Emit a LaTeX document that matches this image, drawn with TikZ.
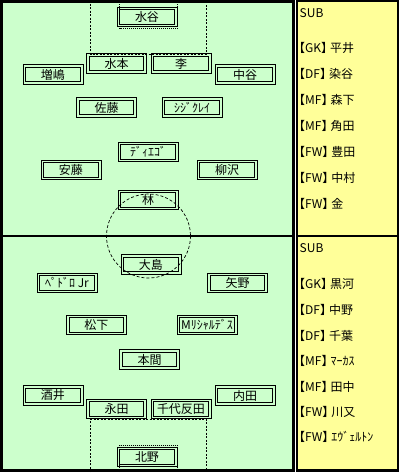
\documentclass[tikz,border=0pt]{standalone}
\usepackage{fontspec}
\setmainfont{Noto Sans CJK JP}
\definecolor{fieldgreen}{HTML}{CCFFCC}
\definecolor{subyellow}{HTML}{FFFF99}
\begin{document}
\begin{tikzpicture}[x=1pt,y=-1pt,
  player/.style={draw=black, line width=1pt, fill=fieldgreen,
    minimum width=60pt, minimum height=19.5pt, inner sep=0pt,
    font=\fontsize{12}{14}\selectfont,
    path picture={\draw[line width=1pt]
      ([xshift=2.6pt,yshift=-2.6pt]path picture bounding box.north west) rectangle
      ([xshift=-2.6pt,yshift=2.6pt]path picture bounding box.south east);}},
  subtxt/.style={anchor=west, inner sep=0pt, font=\fontsize{12}{14}\selectfont},
  arealine/.style={line width=0.7pt, dash pattern=on 2pt off 1.5pt},
  goalline/.style={line width=0.7pt, dash pattern=on 1pt off 1pt},
  circleline/.style={line width=0.7pt, dash pattern=on 3pt off 2pt}]
\useasboundingbox (0,0) rectangle (401,475);
\fill[white] (0,0) rectangle (401,475);
% field
\fill[fieldgreen] (1.5,1.5) rectangle (293.5,470.5);
% halfway line
\draw[line width=2pt] (1.5,236) -- (293.5,236);
% sub panel
\fill[subyellow] (297.2,1) rectangle (398,470.5);
\draw[line width=2.2pt] (297.2,1) rectangle (398,470.5);
\draw[line width=2pt] (297.2,236) -- (398,236);

% top team
\node[player] (p1) at (147,17) {水谷};
\node[player] (p2) at (116.5,63.5) {水本};
\node[player] (p3) at (181,63.5) {李};
\node[player] (p4) at (53,74.5) {増嶋};
\node[player] (p5) at (245,74.5) {中谷};
\node[player] (p6) at (106.5,107.5) {佐藤};
\node[player] (p7) at (192,107.5) {ｼｼﾞｸﾚｲ};
\node[player] (p8) at (148,152) {ﾃﾞｨｴｺﾞ};
\node[player] (p9) at (71,170) {安藤};
\node[player] (p10) at (227,170) {柳沢};
\node[player] (p11) at (148,200) {林};
% bottom team
\node[player] (q1) at (151,264.5) {大島};
\node[player] (q2) at (67,283) {ﾍﾟﾄﾞﾛ Jr};
\node[player] (q3) at (237.5,283) {矢野};
\node[player] (q4) at (96.5,325) {松下};
\node[player] (q5) at (207,325) {Mﾘｼｬﾙﾃﾞｽ};
\node[player] (q6) at (149.5,359.5) {本間};
\node[player] (q7) at (53,395.5) {酒井};
\node[player] (q8) at (245,395.5) {内田};
\node[player] (q9) at (116.5,409) {永田};
\node[player] (q10) at (181,409) {千代反田};
\node[player] (q11) at (147,457) {北野};

% penalty and goal areas (drawn over the boxes)
\draw[arealine] (90.5,0) -- (90.5,54) -- (206,54) -- (206,0);
\draw[goalline] (119.5,0) -- (119.5,28.5) -- (177,28.5) -- (177,0);
\draw[arealine] (90.5,472) -- (90.5,419) -- (206,419) -- (206,472);
\draw[goalline] (119.5,472) -- (119.5,445) -- (177,445) -- (177,472);
% centre circle
\coordinate (cc) at (148.5,236);
\draw[circleline] (cc) circle[radius=42];
% field border
\draw[line width=2.8pt] (1.5,1.5) rectangle (293.5,470.5);

% substitutes top
\node[subtxt] (s0) at (299.5,13) {SUB};
\node[subtxt] (s1) at (293,48) {【GK】\kern-3pt 平井};
\node[subtxt] (s2) at (293,74) {【DF】\kern-3pt 染谷};
\node[subtxt] (s3) at (293,100) {【MF】\kern-3pt 森下};
\node[subtxt] (s4) at (293,126) {【MF】\kern-3pt 角田};
\node[subtxt] (s5) at (293,152) {【FW】\kern-3pt 豊田};
\node[subtxt] (s6) at (293,178) {【FW】\kern-3pt 中村};
\node[subtxt] (s7) at (293,204) {【FW】\kern-3pt 金};
% substitutes bottom
\node[subtxt] (t0) at (299.5,248) {SUB};
\node[subtxt] (t1) at (293,284) {【GK】\kern-3pt 黒河};
\node[subtxt] (t2) at (293,310) {【DF】\kern-3pt 中野};
\node[subtxt] (t3) at (293,335.5) {【DF】\kern-3pt 千葉};
\node[subtxt] (t4) at (293,361) {【MF】\kern-3pt ﾏｰｶｽ};
\node[subtxt] (t5) at (293,386.5) {【MF】\kern-3pt 田中};
\node[subtxt] (t6) at (293,411.5) {【FW】\kern-3pt 川又};
\node[subtxt] (t7) at (293,437) {【FW】\kern-3pt ｴｳﾞｪﾙﾄﾝ};
\end{tikzpicture}
\end{document}
